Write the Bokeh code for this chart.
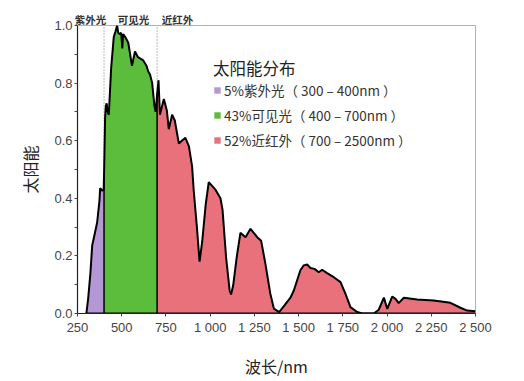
import numpy as np
from bokeh.plotting import figure
from bokeh.models import Legend, LegendItem, LinearAxis, FixedTicker
from bokeh.embed import file_html
from bokeh.resources import INLINE

# --- data ---
wavelength = [300, 310, 323, 333, 345, 352, 361, 374, 378, 390, 398, 400, 406, 410, 415, 420, 427,
              440, 455, 465, 474, 480, 490, 497, 503, 508, 520, 537, 558, 575, 592, 620, 640, 650,
              660, 672, 685, 692, 700, 708, 716, 738, 755, 766, 785, 800, 823, 840, 860, 880,
              898, 907, 925, 940, 955, 975, 992, 1030, 1058, 1070, 1090, 1110, 1118, 1130, 1150,
              1171, 1200, 1228, 1266, 1288, 1313, 1340, 1360, 1390, 1420, 1454, 1473, 1510, 1529,
              1548, 1567, 1590, 1614, 1633, 1661, 1699, 1737, 1765, 1793, 1831, 1860, 1925, 1953,
              1982, 2001, 2029, 2048, 2066, 2095, 2170, 2264, 2358, 2415, 2453, 2500]
energy = [0.0, 0.05, 0.14, 0.236, 0.27, 0.29, 0.316, 0.39, 0.435, 0.427, 0.43, 0.48, 0.68, 0.72, 0.73,
          0.70, 0.69, 0.85, 0.96, 0.98, 1.0, 0.975, 0.97, 0.975, 0.92, 0.97, 0.96, 0.94, 0.86, 0.91,
          0.89, 0.88, 0.86, 0.84, 0.83, 0.80, 0.72, 0.70, 0.76, 0.81, 0.69, 0.745, 0.705,
          0.64, 0.69, 0.67, 0.59, 0.60, 0.61, 0.58, 0.51, 0.427, 0.30, 0.18, 0.25, 0.38, 0.456,
          0.43, 0.40, 0.36, 0.195, 0.08, 0.066, 0.097, 0.195, 0.28, 0.265, 0.294, 0.265, 0.253,
          0.17, 0.069, 0.017, 0.005, 0.028, 0.055, 0.08, 0.15, 0.167, 0.17, 0.158, 0.155, 0.143,
          0.152, 0.14, 0.126, 0.109, 0.068, 0.022, 0.005, 0.0, 0.0, 0.013, 0.055, 0.016, 0.059,
          0.051, 0.036, 0.055, 0.049, 0.045, 0.037, 0.02, 0.01, 0.008]

band_edges = [400, 700]
band_labels = ["5%紫外光（ 300 – 400nm ）", "43%可见光（ 400 – 700nm ）", "52%近红外（ 700 – 2500nm ）"]
band_names = ["紫外光", "可见光", "近红外"]
band_name_pos = [323, 567, 815]
band_colors = ["#b497d4", "#5cbd3d", "#e9717c"]

x_ticks = [250, 500, 750, 1000, 1250, 1500, 1750, 2000, 2250, 2500]
x_tick_labels = ["250", "500", "750", "1 000", "1 250", "1 500", "1 750", "2 000", "2 250", "2 500"]
y_ticks = [0.0, 0.2, 0.4, 0.6, 0.8, 1.0]
y_tick_labels = ["0.0", "0.2", "0.4", "0.6", "0.8", "1.0"]

wl = np.array(wavelength, dtype=float)
en = np.array(energy, dtype=float)

CJK = "Noto Sans CJK SC"
LAT = "Liberation Sans"

p = figure(width=524, height=381, output_backend="svg", toolbar_location=None,
           x_range=(250, 2500), y_range=(0, 1.0),
           min_border_left=77, min_border_right=49, min_border_top=25, min_border_bottom=68)
p.background_fill_color = "white"
p.border_fill_color = "white"
p.outline_line_color = "#b0b0b0"
p.outline_line_width = 1
p.xgrid.visible = False
p.ygrid.visible = False

# dotted separators (drawn under the fills)
p.segment(x0=band_edges, y0=[0, 0], x1=band_edges, y1=[1.0, 1.0],
          line_color="#777777", line_dash="1 2", line_width=1)

masks = [wl <= band_edges[0], (wl >= band_edges[0]) & (wl <= band_edges[1]), wl >= band_edges[1]]
areas = []
for m, c in zip(masks, band_colors):
    areas.append(p.varea(x=wl[m], y1=np.zeros(m.sum()), y2=en[m], fill_color=c))

edge_vals = list(np.interp(band_edges, wl, en))
p.segment(x0=band_edges, y0=[0, 0], x1=band_edges, y1=edge_vals, line_color="black", line_width=1.5)
p.line(wl, en, line_color="black", line_width=2)
p.line([wl[0], wl[-1]], [0, 0], line_color="black", line_width=2)

# axes
for ax in (p.xaxis[0], p.yaxis[0]):
    ax.axis_line_color = "#222222"
    ax.axis_line_width = 1.2
    ax.major_tick_line_color = "#444444"
    ax.major_tick_out = 3
    ax.major_tick_in = 0
    ax.major_label_text_font = LAT
    ax.major_label_text_font_size = "13px"
    ax.major_label_text_color = "#444444"
    ax.axis_label_text_font = CJK
    ax.axis_label_text_font_style = "normal"
    ax.axis_label_text_color = "#222222"
    ax.axis_label_text_font_size = "16px"

p.xaxis.ticker = FixedTicker(ticks=x_ticks)
p.xaxis.major_label_overrides = dict(zip(x_ticks, x_tick_labels))
p.xaxis.minor_tick_line_color = None
p.xaxis.axis_label = "波长/nm"
p.xaxis.axis_label_standoff = 16
p.xaxis.major_label_standoff = 3

p.yaxis.ticker = FixedTicker(ticks=y_ticks, minor_ticks=[0.1, 0.3, 0.5, 0.7, 0.9])
p.yaxis.major_label_overrides = dict(zip(y_ticks, y_tick_labels))
p.yaxis.minor_tick_line_color = "#444444"
p.yaxis.minor_tick_out = 3
p.yaxis.minor_tick_in = 0
p.yaxis.axis_label = "太阳能"
p.yaxis.axis_label_standoff = 9
p.yaxis.major_label_standoff = 2

# band names above the frame, as a bare top axis
top = LinearAxis(ticker=FixedTicker(ticks=band_name_pos),
                 major_label_overrides=dict(zip(band_name_pos, band_names)))
top.axis_line_color = None
top.major_tick_line_color = None
top.minor_tick_line_color = None
top.major_tick_out = 0
top.major_label_standoff = -1
top.major_label_text_font = CJK
top.major_label_text_font_size = "10.5px"
top.major_label_text_font_style = "bold"
top.major_label_text_color = "#333333"
p.add_layout(top, "above")

legend = Legend(items=[LegendItem(label=l, renderers=[r]) for l, r in zip(band_labels, areas)],
                title="太阳能分布", location=(136, 163))
legend.title_text_font = CJK
legend.title_text_font_size = "16.5px"
legend.title_text_font_style = "normal"
legend.title_text_color = "#222222"
legend.title_standoff = 0
legend.label_text_font = CJK
legend.label_text_font_size = "13.5px"
legend.label_text_color = "#333333"
legend.glyph_width = 8
legend.glyph_height = 8
legend.label_height = 20
legend.label_standoff = 3
legend.spacing = 5
legend.padding = 0
legend.margin = 0
legend.border_line_alpha = 0
legend.background_fill_alpha = 0
p.add_layout(legend, "center")

open("out.html", "w").write(file_html(p, INLINE))
